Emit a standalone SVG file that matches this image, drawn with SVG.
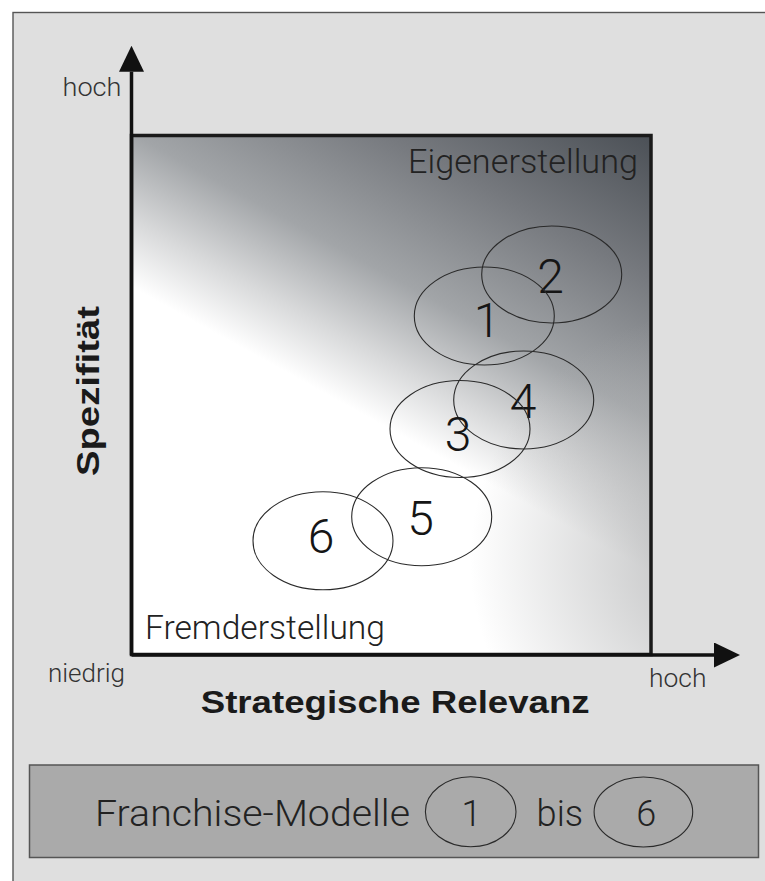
<svg xmlns="http://www.w3.org/2000/svg" width="765" height="881" viewBox="0 0 765 881">
<defs>
  <linearGradient id="plotGrad" gradientUnits="userSpaceOnUse" x1="460.4" y1="481.5" x2="651" y2="135">
    <stop offset="0" stop-color="#ffffff"/>
    <stop offset="0.03" stop-color="#ffffff"/>
    <stop offset="0.18" stop-color="#d8d9da"/>
    <stop offset="0.37" stop-color="#a2a5a8"/>
    <stop offset="0.68" stop-color="#76797e"/>
    <stop offset="1" stop-color="#4b5056"/>
  </linearGradient>
  <radialGradient id="cornerGrad" gradientUnits="userSpaceOnUse" cx="720" cy="560" r="250">
    <stop offset="0" stop-color="#b4b5b6" stop-opacity="0.9"/>
    <stop offset="1" stop-color="#b4b5b6" stop-opacity="0"/>
  </radialGradient>
  <clipPath id="plotClip"><rect x="131.5" y="135.5" width="519.5" height="519"/></clipPath>
  <marker id="arrow" markerUnits="userSpaceOnUse" markerWidth="26" markerHeight="25" viewBox="0 0 26 25" refX="0" refY="12.5" orient="auto">
    <path d="M0,0 L26,12.5 L0,25 Z" fill="#111"/>
  </marker>
</defs>
<style>
  text { font-family: "Liberation Sans", Arial, sans-serif; }
  .light { font-family: Roboto, "Liberation Sans", Arial, sans-serif; font-weight: 300; }
  .axislbl { font-size: 25px; fill: #333; }
  .zone { font-size: 33.5px; fill: #222; }
  .title { font-size: 31px; font-weight: bold; fill: #1a1a1a; }
  .num { font-size: 48px; fill: #151515; text-anchor: middle; }
  .oval { fill: none; stroke: #2a2a2a; stroke-width: 1.1; }
  .legtxt { font-size: 37px; fill: #222; }
  .legnum { font-size: 36px; fill: #222; text-anchor: middle; }
  .axis { stroke: #111; stroke-width: 3.5; fill: none; }
</style>

<g id="frame">
  <rect x="13" y="12.5" width="760" height="875" fill="#dfdfdf" stroke="#555" stroke-width="1.4"/>
</g>

<g id="plot-area">
  <rect x="131.5" y="135.5" width="519.5" height="519" fill="url(#plotGrad)"/>
  <rect x="131.5" y="135.5" width="519.5" height="519" fill="url(#cornerGrad)" clip-path="url(#plotClip)"/>
  <rect x="131.5" y="135.5" width="519.5" height="519" fill="none" stroke="#1a1a1a" stroke-width="3.5"/>
  <text class="zone light" x="408" y="172.5" textLength="230" lengthAdjust="spacingAndGlyphs">Eigenerstellung</text>
  <text class="zone light" x="145" y="638.5" textLength="240" lengthAdjust="spacingAndGlyphs">Fremderstellung</text>
</g>

<g id="connectors">
  <line class="axis" x1="131.5" y1="655" x2="131.5" y2="71.7" marker-end="url(#arrow)"/>
  <line class="axis" x1="131.5" y1="655" x2="714" y2="655" marker-end="url(#arrow)"/>
</g>

<g id="axis-labels">
  <text class="axislbl light" x="62.5" y="96" textLength="59" lengthAdjust="spacingAndGlyphs">hoch</text>
  <text class="axislbl light" x="48" y="682" textLength="77" lengthAdjust="spacingAndGlyphs">niedrig</text>
  <text class="axislbl light" x="649" y="687" textLength="57.5" lengthAdjust="spacingAndGlyphs">hoch</text>
  <text class="title" x="200.7" y="713.3" textLength="389" lengthAdjust="spacingAndGlyphs">Strategische Relevanz</text>
  <text class="title" transform="translate(98.5,476) rotate(-90)" x="0" y="0" textLength="170" lengthAdjust="spacingAndGlyphs">Spezifität</text>
</g>

<g id="node-2">
  <ellipse class="oval" cx="551.7" cy="274.5" rx="70" ry="48.5"/>
  <text class="num light" x="550.5" y="293">2</text>
</g>
<g id="node-1">
  <ellipse class="oval" cx="484.3" cy="316" rx="70" ry="49"/>
  <text class="num light" x="487" y="337">1</text>
</g>
<g id="node-4">
  <ellipse class="oval" cx="523.7" cy="400" rx="70" ry="49"/>
  <text class="num light" x="523" y="418">4</text>
</g>
<g id="node-3">
  <ellipse class="oval" cx="460" cy="429" rx="70" ry="48.5"/>
  <text class="num light" x="458" y="451">3</text>
</g>
<g id="node-5">
  <ellipse class="oval" cx="421.7" cy="516.7" rx="70" ry="49"/>
  <text class="num light" x="420.5" y="535">5</text>
</g>
<g id="node-6">
  <ellipse class="oval" cx="323" cy="540.8" rx="70" ry="49"/>
  <text class="num light" x="321" y="553">6</text>
</g>

<g id="legend">
  <rect x="29.5" y="765" width="729" height="92.5" fill="#aaaaaa" stroke="#555" stroke-width="1.5"/>
  <text class="legtxt light" x="95" y="826" textLength="315" lengthAdjust="spacingAndGlyphs">Franchise-Modelle</text>
  <ellipse class="oval" cx="470.7" cy="811.7" rx="45.3" ry="35"/>
  <text class="legnum light" x="471.5" y="826">1</text>
  <text class="legtxt light" x="536.6" y="826" textLength="46.5" lengthAdjust="spacingAndGlyphs">bis</text>
  <ellipse class="oval" cx="643.4" cy="812" rx="49.3" ry="35"/>
  <text class="legnum light" x="646.3" y="826">6</text>
</g>
</svg>
